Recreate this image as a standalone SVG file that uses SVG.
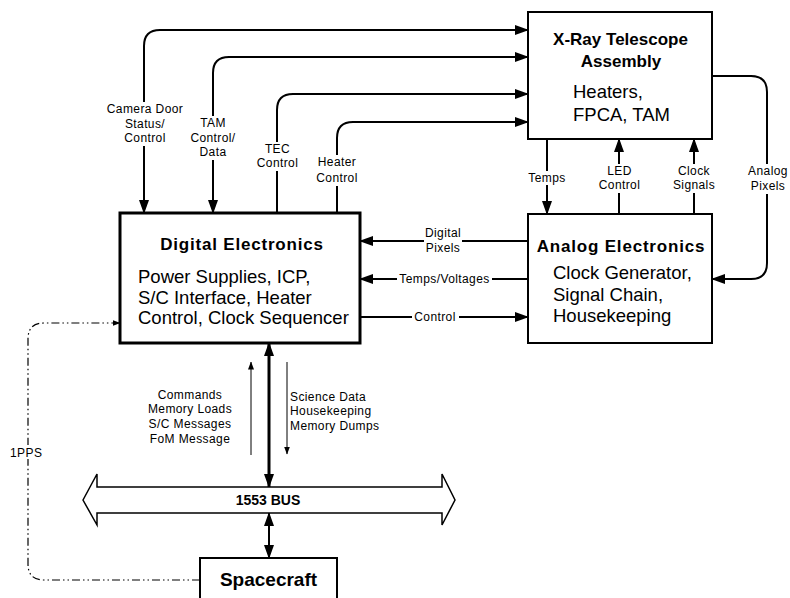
<svg xmlns="http://www.w3.org/2000/svg" width="790" height="598" viewBox="0 0 790 598">
<style>
.box{fill:#fff;stroke:#000;stroke-width:2}
.ln{fill:none;stroke:#000;stroke-width:2}
.thin{fill:none;stroke:#000;stroke-width:1.2}
.lbl{font-family:"Liberation Sans",Arial,sans-serif;font-size:12px;letter-spacing:0.4px;fill:#000}
.ttl{font-family:"Liberation Sans",Arial,sans-serif;font-size:17px;font-weight:bold;fill:#000}
.body{font-family:"Liberation Sans",Arial,sans-serif;font-size:18.5px;fill:#000}
.bg{fill:#fff;stroke:none}
.mid{text-anchor:middle}
</style>
<defs>
<marker id="ah" markerUnits="userSpaceOnUse" markerWidth="14" markerHeight="10" refX="13" refY="5" orient="auto-start-reverse">
<path d="M0,0 L14,5 L0,10 z" fill="#000"/>
</marker>
<marker id="ahs" markerUnits="userSpaceOnUse" markerWidth="8" markerHeight="6" refX="7.5" refY="3" orient="auto-start-reverse">
<path d="M0,0 L8,3 L0,6 z" fill="#000"/>
</marker>
</defs>

<g id="connectors">
<path class="ln" d="M144,213 V46 Q144,30 160,30 H528" marker-start="url(#ah)" marker-end="url(#ah)"/>
<path class="ln" d="M213,213 V73 Q213,57 229,57 H528" marker-start="url(#ah)" marker-end="url(#ah)"/>
<path class="ln" d="M277,213 V110 Q277,94 293,94 H528" marker-end="url(#ah)"/>
<path class="ln" d="M337,213 V138 Q337,122 353,122 H528" marker-end="url(#ah)"/>
<path class="ln" d="M712,76 H751 Q767,76 767,92 V263 Q767,279 751,279 H712" marker-end="url(#ah)"/>
<path class="ln" d="M547,139 V214" marker-end="url(#ah)"/>
<path class="ln" d="M619,214 V139" marker-end="url(#ah)"/>
<path class="ln" d="M694,214 V139" marker-end="url(#ah)"/>
<path class="ln" d="M528,241 H360" marker-end="url(#ah)"/>
<path class="ln" d="M528,279 H360" marker-end="url(#ah)"/>
<path class="ln" d="M360,317 H528" marker-end="url(#ah)"/>
<path fill="none" stroke="#000" stroke-width="3" d="M269,343 V487" marker-start="url(#ah)" marker-end="url(#ah)"/>
<path class="ln" d="M269,513 V558" marker-start="url(#ah)" marker-end="url(#ah)"/>
<path fill="none" stroke="#000" stroke-width="1" d="M251,455 V362" marker-end="url(#ahs)"/>
<path fill="none" stroke="#000" stroke-width="1" d="M287,362 V454" marker-end="url(#ahs)"/>
<path fill="none" stroke="#000" stroke-width="1.2" stroke-dasharray="8 3 1.5 3 1.5 3" d="M200,580 H44 Q28,580 28,564 V339 Q28,323 44,323 H120" marker-end="url(#ahs)"/>
</g>

<g id="labels">
<rect class="bg" x="106" y="102" width="78" height="44"/>
<text class="lbl mid" x="145" y="113">Camera Door</text>
<text class="lbl mid" x="145" y="128">Status/</text>
<text class="lbl mid" x="145" y="142">Control</text>
<rect class="bg" x="192" y="116" width="44" height="44"/>
<text class="lbl mid" x="213" y="127">TAM</text>
<text class="lbl mid" x="213" y="142">Control/</text>
<text class="lbl mid" x="213" y="156">Data</text>
<rect class="bg" x="255" y="142" width="45" height="29"/>
<text class="lbl mid" x="277.5" y="153">TEC</text>
<text class="lbl mid" x="277.5" y="167">Control</text>
<rect class="bg" x="314" y="155" width="46" height="31"/>
<text class="lbl mid" x="337" y="166">Heater</text>
<text class="lbl mid" x="337" y="182">Control</text>
<rect class="bg" x="527" y="171" width="41" height="14"/>
<text class="lbl mid" x="547" y="182">Temps</text>
<rect class="bg" x="598" y="164" width="43" height="29"/>
<text class="lbl mid" x="619.5" y="175">LED</text>
<text class="lbl mid" x="619.5" y="189">Control</text>
<rect class="bg" x="673" y="164" width="43" height="29"/>
<text class="lbl mid" x="694" y="175">Clock</text>
<text class="lbl mid" x="694" y="189">Signals</text>
<rect class="bg" x="747" y="164" width="42" height="30"/>
<text class="lbl mid" x="768" y="175">Analog</text>
<text class="lbl mid" x="768" y="190">Pixels</text>
<rect class="bg" x="424" y="227" width="38" height="29"/>
<text class="lbl mid" x="443" y="237">Digital</text>
<text class="lbl mid" x="443" y="252">Pixels</text>
<rect class="bg" x="397" y="273" width="95" height="13"/>
<text class="lbl mid" x="444.5" y="283">Temps/Voltages</text>
<rect class="bg" x="412" y="311" width="47" height="13"/>
<text class="lbl mid" x="435" y="321">Control</text>
<text class="lbl mid" x="190" y="399">Commands</text>
<text class="lbl mid" x="190" y="413">Memory Loads</text>
<text class="lbl mid" x="190" y="428">S/C Messages</text>
<text class="lbl mid" x="190" y="443">FoM Message</text>
<text class="lbl" x="290" y="401">Science Data</text>
<text class="lbl" x="290" y="415">Housekeeping</text>
<text class="lbl" x="290" y="430">Memory Dumps</text>
<rect class="bg" x="9" y="445" width="38" height="14"/>
<text class="lbl" x="10" y="457">1PPS</text>
</g>

<g id="xrt">
<rect class="box" x="528" y="12" width="184" height="127"/>
<text class="ttl mid" x="620.5" y="45">X-Ray Telescope</text>
<text class="ttl mid" x="621" y="67">Assembly</text>
<text class="body" x="573" y="98">Heaters,</text>
<text class="body" x="573" y="121">FPCA, TAM</text>
</g>

<g id="digital">
<rect class="box" x="120" y="213" width="240" height="130" style="stroke-width:3"/>
<text class="ttl mid" x="242" y="250" style="letter-spacing:0.8px">Digital Electronics</text>
<text class="body" x="138" y="283">Power Supplies, ICP,</text>
<text class="body" x="138" y="303.5">S/C Interface, Heater</text>
<text class="body" x="138" y="324">Control, Clock Sequencer</text>
</g>

<g id="analog">
<rect class="box" x="528" y="214" width="184" height="129"/>
<text class="ttl mid" x="621" y="252" style="letter-spacing:0.8px">Analog Electronics</text>
<text class="body" x="553" y="279">Clock Generator,</text>
<text class="body" x="553" y="300.5">Signal Chain,</text>
<text class="body" x="553" y="322">Housekeeping</text>
</g>

<g id="bus">
<path fill="#fff" stroke="#000" stroke-width="1.5" d="M83,500 L97,474 L97,487 L442,487 L442,474 L455,500 L442,525 L442,513 L97,513 L97,525 Z"/>
<text class="ttl mid" x="268" y="505" style="font-size:14px">1553 BUS</text>
</g>

<g id="spacecraft">
<rect class="box" x="200" y="558" width="137" height="60"/>
<text class="ttl mid" x="268.5" y="586" style="font-size:19px">Spacecraft</text>
</g>
</svg>
